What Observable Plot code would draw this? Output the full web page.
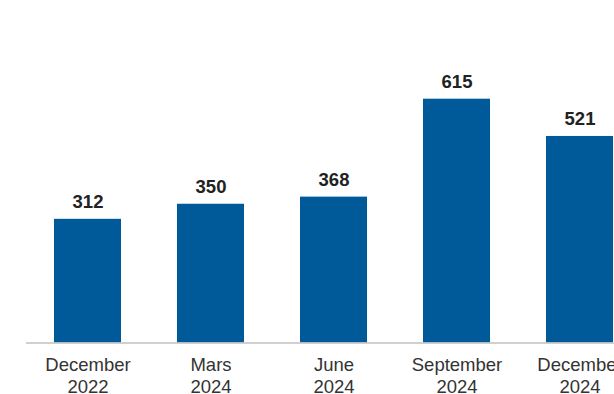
<!DOCTYPE html>
<html>
<head>
<meta charset="utf-8">
<script src="https://cdn.jsdelivr.net/npm/d3@7"></script>
<script src="https://cdn.jsdelivr.net/npm/@observablehq/plot@0.6"></script>
<style>
  html, body { margin: 0; padding: 0; background: #fff; overflow: hidden; }
  #chart svg { display: block; font-family: "Liberation Sans", Arial, sans-serif; }
</style>
</head>
<body>
<div id="chart"></div>
<script>
const months = ["December", "Mars", "June", "September", "December"];
const years = ["2022", "2024", "2024", "2024", "2024"];
const values = [312, 350, 368, 615, 521];

const periods = months.map((m, i) => m + " " + years[i]);
const data = periods.map((p, i) => ({period: p, month: months[i], year: years[i], value: values[i]}));

const chart = Plot.plot({
  width: 614,
  height: 394,
  marginLeft: 26,
  marginRight: 0,
  marginTop: 0,
  marginBottom: 51.5,
  style: {fontFamily: "'Liberation Sans', Arial, sans-serif", background: "#fff"},
  x: {domain: periods, range: [26.45, 641.45], paddingInner: 0.453, paddingOuter: 0.2265, axis: null},
  y: {domain: [0, 700], range: [342.5, 65], axis: null},
  marks: [
    Plot.barY(data, {x: "period", y: "value", fill: "#005a9a"}),
    Plot.ruleY([0], {stroke: "#c0c0c0", strokeWidth: 1.5}),
    Plot.text(data, {
      x: "period", y: "value", text: d => String(d.value),
      lineAnchor: "bottom", dy: -11,
      fontSize: 18.5, fontWeight: "bold", fill: "#222"
    }),
    Plot.text(data, {
      x: "period", text: "month", frameAnchor: "bottom",
      lineAnchor: "bottom", dy: 28.2, fontSize: 18.5, fill: "#333"
    }),
    Plot.text(data, {
      x: "period", text: "year", frameAnchor: "bottom",
      lineAnchor: "bottom", dy: 50.2, fontSize: 18.5, fill: "#333"
    })
  ]
});
document.getElementById("chart").appendChild(chart);
</script>
</body>
</html>
